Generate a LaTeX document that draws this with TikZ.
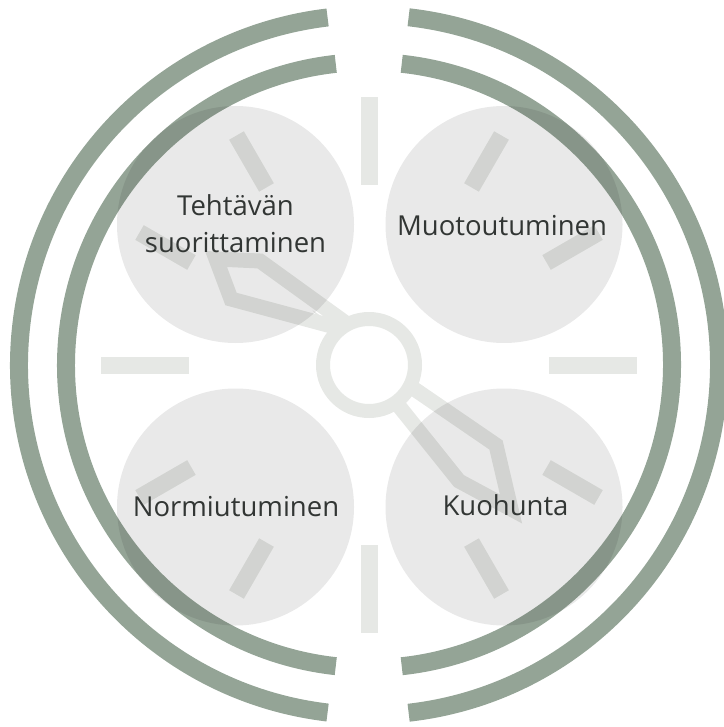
\documentclass[tikz,border=0pt]{standalone}
\usepackage{fontspec}
\setmainfont{Open Sans}
\definecolor{arcgreen}{HTML}{94A496}
\definecolor{tickgray}{HTML}{E6E8E5}
\definecolor{txtgray}{HTML}{323634}
\begin{document}
\begin{tikzpicture}[x=1pt,y=-1pt,
  tickbar/.style={draw=tickgray, line width=17pt, line cap=butt},
  handline/.style={draw=tickgray, line width=15pt, line join=miter},
  ringline/.style={draw=tickgray, line width=14pt, fill=white},
  arcband/.style={draw=arcgreen, line width=18pt, line cap=butt},
  phase/.style={fill=black, fill opacity=0.088},
  lbl/.style={text=txtgray, font=\fontsize{27.5}{37}\selectfont, inner sep=0pt, anchor=base}]
\useasboundingbox (0,0) rectangle (723,727);
\coordinate (c) at (369,365);
% clock ticks
\begin{scope}[shift={(369,365)}]
  \foreach \a in {0,90,180,270} \draw[tickbar] (\a:180) -- (\a:268);
  \foreach \a in {30,60,120,150,210,240,300,330} \draw[tickbar] (\a:205) -- (\a:265);
\end{scope}
% hands
\draw[handline] (361,334) -- (231,299) -- (216,259) -- (260,261) -- cycle;
\draw[handline] (350,345) -- (459,481) -- (511,509) -- (496,445) -- cycle;
% central ring
\draw[ringline] (c) circle[radius=46];
% arcs
\begin{scope}[shift={(369,365)}]
  \draw[arcband] (96.8:350) arc[start angle=96.8, end angle=263.2, radius=350];
  \draw[arcband] (-83.5:350) arc[start angle=-83.5, end angle=83.5, radius=350];
  \draw[arcband] (96.3:303) arc[start angle=96.3, end angle=263.7, radius=303];
  \draw[arcband] (-83.8:303) arc[start angle=-83.8, end angle=83.8, radius=303];
\end{scope}
% phase circles
\fill[phase] (235.5,224.5) circle[radius=118.5];
\fill[phase] (504,224.5) circle[radius=118.5];
\fill[phase] (235.5,507) circle[radius=118.5];
\fill[phase] (504,507) circle[radius=118.5];
% labels
\node[lbl] (t1a) at (235.5,215) {Tehtävän};
\node[lbl] (t1b) at (235.5,252) {suorittaminen};
\node[lbl] (t2) at (502,236) {Muotoutuminen};
\node[lbl] (t3) at (236,516) {Normiutuminen};
\node[lbl] (t4) at (505.5,515) {Kuohunta};
\end{tikzpicture}
\end{document}
